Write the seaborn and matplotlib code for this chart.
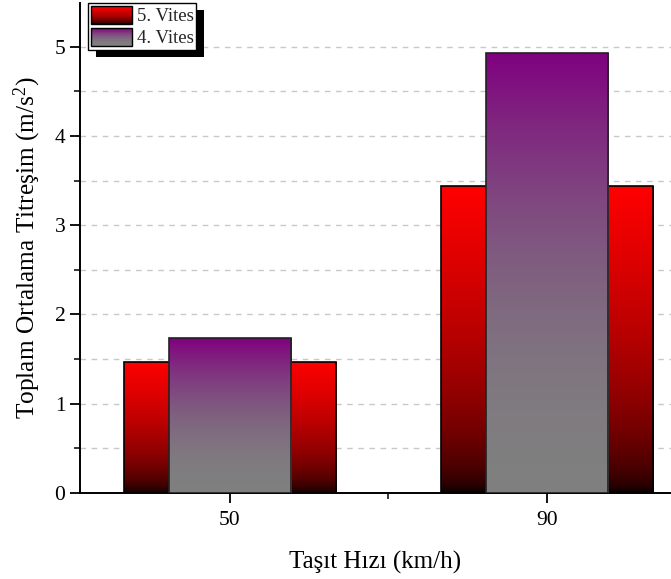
import numpy as np
import pandas as pd
import matplotlib
matplotlib.use("Agg")
import matplotlib.pyplot as plt
import seaborn as sns
from matplotlib.patches import Rectangle
from matplotlib.legend_handler import HandlerBase
from matplotlib.transforms import IdentityTransform
from matplotlib.ticker import MultipleLocator, FixedLocator

# data
speeds = ["50", "90"]
gear5 = [1.47, 3.44]
gear4 = [1.74, 4.93]
series_names = ["5. Vites", "4. Vites"]

sns.set_theme(style="white")
plt.rcParams["font.family"] = ["Liberation Serif", "DejaVu Serif"]
plt.rcParams["mathtext.fontset"] = "custom"
plt.rcParams["mathtext.rm"] = "Liberation Serif"
plt.rcParams["mathtext.default"] = "regular"


def gradient_colors(top, bottom, power, n=256):
    # row 0 = bottom of bar, last row = top
    t = np.linspace(0, 1, n) ** power
    top = np.array(top, dtype=float)
    bottom = np.array(bottom, dtype=float)
    return bottom[None, :] + (top - bottom)[None, :] * t[:, None]


red_grad = gradient_colors((1, 0, 0), (0, 0, 0), 0.5)
purple_grad = gradient_colors((0.5, 0, 0.5), (0.5, 0.5, 0.5), 2)

df = pd.DataFrame({"speed": speeds, "gear5": gear5, "gear4": gear4})

fig = plt.figure(figsize=(6.71, 5.79), dpi=100)
ax = fig.add_axes([80 / 671, 86 / 579, 1 - 80 / 671, 490 / 579])

sns.barplot(data=df, x="speed", y="gear5", width=0.67, color="red",
            edgecolor="black", linewidth=1.2, ax=ax)
n5 = len(ax.patches)
sns.barplot(data=df, x="speed", y="gear4", width=0.385, color="purple",
            edgecolor="#222222", linewidth=1.2, ax=ax)
patches5 = ax.patches[:n5]
patches4 = ax.patches[n5:]


def fill_gradient(patch, cols, z):
    x0, y0 = patch.get_x(), patch.get_y()
    w, h = patch.get_width(), patch.get_height()
    im = ax.imshow(cols[:, None, :], origin="lower", aspect="auto",
                   extent=(x0, x0 + w, y0, y0 + h), zorder=z,
                   interpolation="bilinear")
    im.set_clip_path(patch)
    patch.set_facecolor("none")
    patch.set_zorder(z + 0.1)


for p in patches5:
    fill_gradient(p, red_grad, 2)
for p in patches4:
    fill_gradient(p, purple_grad, 3)

ax.set_xlim(-0.473, 1.391)
ax.set_ylim(0, 5.49)

ax.yaxis.set_major_locator(MultipleLocator(1))
ax.yaxis.set_minor_locator(MultipleLocator(0.5))
ax.xaxis.set_minor_locator(FixedLocator([0.5]))
ax.tick_params(axis="both", which="major", direction="out", length=7,
               width=1.3, color="black", labelsize=15.5, labelcolor="black",
               bottom=True, left=True)
ax.tick_params(axis="x", which="major", pad=6)
ax.tick_params(axis="both", which="minor", direction="out", length=4,
               width=1.1, color="black", bottom=True, left=True)
ax.yaxis.grid(True, which="both", linestyle=(0, (4, 4)), color="#c8c8c8", lw=1)
ax.set_axisbelow(True)

sns.despine(ax=ax)
for s in ["left", "bottom"]:
    ax.spines[s].set_color("black")
    ax.spines[s].set_linewidth(1.4)

ax.set_xlabel("Taşıt Hızı (km/h)", fontsize=18, color="black", labelpad=15)
ax.set_ylabel("Toplam Ortalama Titreşim (m/s$^2$)", fontsize=18.3,
              color="black", labelpad=8)


class GradientHandler(HandlerBase):
    def __init__(self, cols):
        super().__init__()
        self.cols = cols

    def create_artists(self, legend, orig_handle, xdescent, ydescent,
                       width, height, fontsize, trans):
        arts = []
        n = 30
        idx = np.linspace(0, len(self.cols) - 1, n).astype(int)
        for i, k in enumerate(idx):
            arts.append(Rectangle((-xdescent, -ydescent + height * i / n),
                                  width, height / n * 1.1,
                                  facecolor=self.cols[k], edgecolor="none",
                                  transform=trans))
        arts.append(Rectangle((-xdescent, -ydescent), width, height,
                              facecolor="none", edgecolor="black", lw=1,
                              transform=trans))
        return arts


h5 = Rectangle((0, 0), 1, 1)
h4 = Rectangle((0, 0), 1, 1)
leg = ax.legend([h5, h4], series_names,
                handler_map={h5: GradientHandler(red_grad),
                             h4: GradientHandler(purple_grad)},
                loc="upper left", bbox_to_anchor=(88 / 671, 1 - 3 / 579),
                bbox_transform=fig.transFigure, borderaxespad=0,
                fontsize=13.5, handlelength=2.2, handleheight=1.1,
                labelspacing=0.15, borderpad=0.15, handletextpad=0.25,
                fancybox=False, framealpha=1, edgecolor="black")
leg.get_frame().set_linewidth(1)

fig.canvas.draw()
bb = leg.get_window_extent()
ax.add_artist(Rectangle((bb.x0 + 8, bb.y0 - 7), bb.width, bb.height,
                        transform=IdentityTransform(), facecolor="black",
                        edgecolor="none", zorder=4.9, clip_on=False))

fig.savefig("out.png", dpi=100)
